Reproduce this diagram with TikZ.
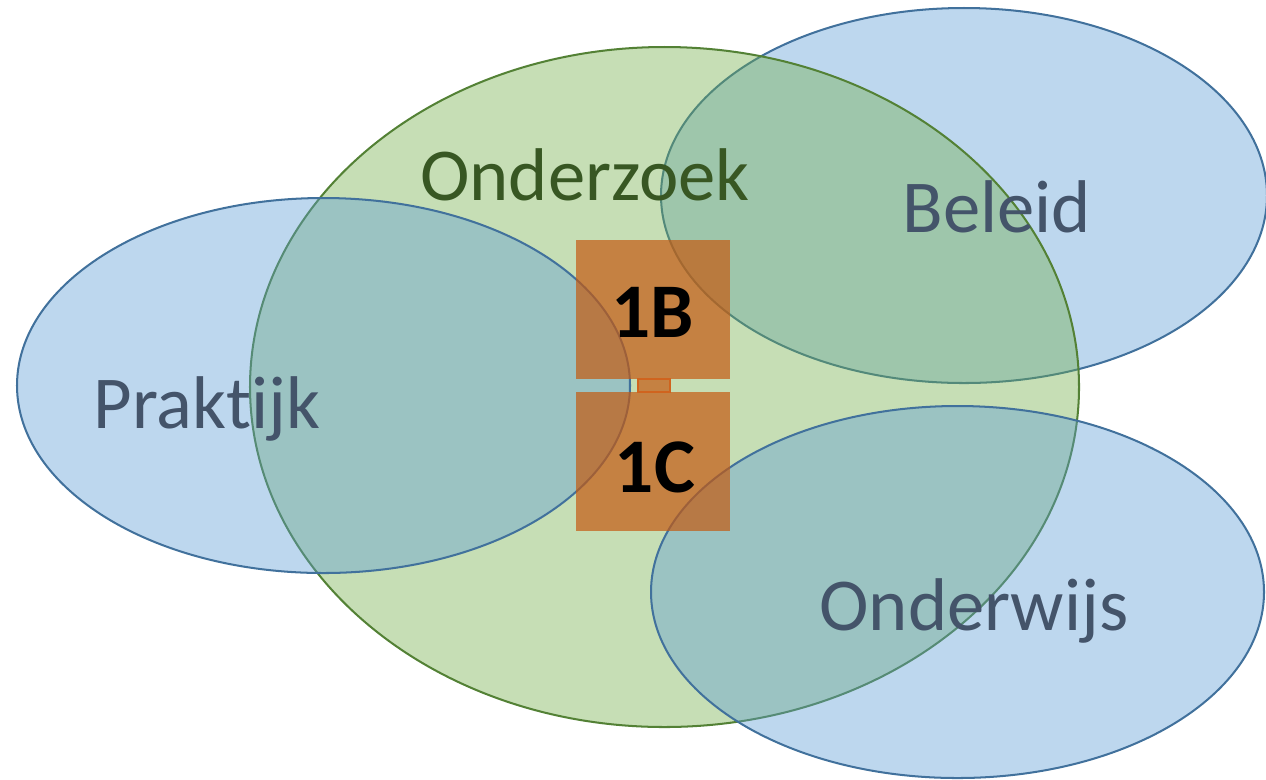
\documentclass[tikz,border=0pt]{standalone}
\usepackage{fontspec}
\setmainfont{Carlito}[Ligatures=NoCommon]
\usetikzlibrary{positioning}
\definecolor{bluefill}{HTML}{5B9BD5}
\definecolor{blueline}{HTML}{41719C}
\definecolor{greenfill}{HTML}{70AD47}
\definecolor{greenline}{HTML}{538135}
\definecolor{greentext}{HTML}{385723}
\definecolor{bluetext}{HTML}{44546A}
\definecolor{boxfill}{HTML}{C55A11}
\definecolor{boxline}{HTML}{D0641E}

\begin{document}
\begin{tikzpicture}[x=0.02cm,y=-0.02cm]
\tikzstyle{every node}+=[inner sep=0pt]
\tikzstyle{field}=[draw=blueline,line width=1.15pt,fill=bluefill,fill opacity=0.4]
\tikzstyle{core}=[draw=greenline,line width=1.15pt,fill=greenfill,fill opacity=0.4]
\tikzstyle{block}=[fill=boxfill,fill opacity=0.7]
\tikzstyle{label}=[anchor=base,font=\fontsize{42.5}{50}\selectfont]
\useasboundingbox (0,0) rectangle (1266,779);
\draw [field] (964,195.5) ellipse (303 and 187.5);
\draw [core] (664.5,387) ellipse (414.5 and 340);
\draw [field] (323.5,385.5) ellipse (306.5 and 187.5);
\draw [field] (957.5,592) ellipse (306.5 and 186);
\fill [block] (576,240) rectangle (730,379);
\fill [block] (576,392) rectangle (730,531);
\draw [block,draw=boxline,line width=0.6pt] (638,379) rectangle (670,392);
\node [label,text=greentext] (onderzoek) at (585,200) {Onderzoek};
\node [label,text=bluetext] (beleid) at (997,232) {Beleid};
\node [label,text=bluetext] (praktijk) at (207,428) {Praktijk};
\node [label,text=bluetext] (onderwijs) at (974,630) {Onderwijs};
\node [label,font=\fontsize{44}{50}\selectfont\bfseries] (b) at (653,337) {1B};
\node [label,font=\fontsize{44}{50}\selectfont\bfseries] (c) at (655,492) {1C};
\end{tikzpicture}
\end{document}
